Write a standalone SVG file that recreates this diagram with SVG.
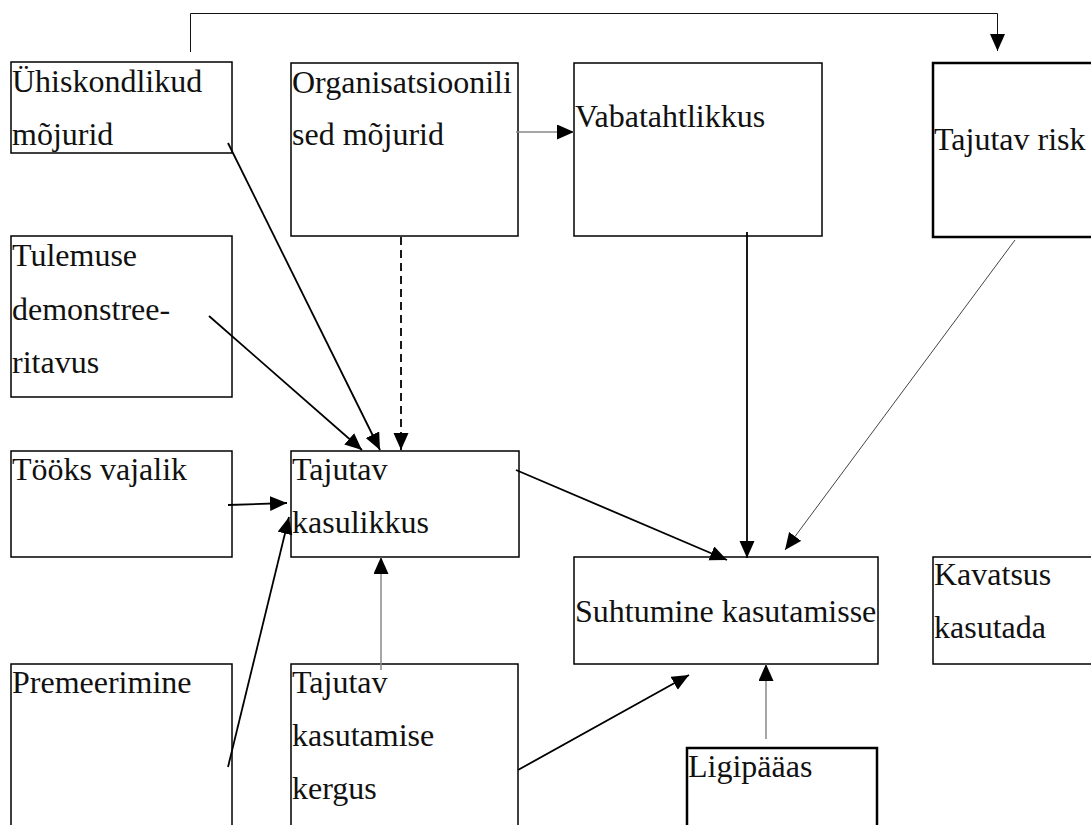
<svg xmlns="http://www.w3.org/2000/svg" width="1091" height="825" viewBox="0 0 1091 825">
<style>
.box{fill:#fff;stroke:#000;stroke-width:1.5}
.thick{stroke-width:2.5}
.t{font-family:"Liberation Serif","Times New Roman",serif;font-size:32px;fill:#111}
.c{fill:none;stroke:#000;stroke-width:1.8}
.g{stroke:#888;stroke-width:1.5}
.thin{stroke:#444;stroke-width:1}
.top{stroke:#111;stroke-width:1}
.d{stroke-dasharray:8,5}
</style>
<defs>
<marker id="ah" markerUnits="userSpaceOnUse" markerWidth="18" markerHeight="16" refX="17" refY="7.5" orient="auto">
<path d="M0,0 L17,7.5 L0,15 z" fill="#000"/>
</marker>
</defs>
<rect width="1091" height="825" fill="#fff"/>
<g id="n1"><rect class="box" x="11" y="62" width="221" height="91"/><text class="t" x="12" y="92">Ühiskondlikud</text><text class="t" x="12" y="145">mõjurid</text></g>
<g id="n2"><rect class="box" x="291" y="63" width="227" height="173"/><text class="t" x="292" y="93">Organisatsioonili</text><text class="t" x="292" y="145">sed mõjurid</text></g>
<g id="n3"><rect class="box" x="574" y="63" width="248" height="173"/><text class="t" x="575" y="127">Vabatahtlikkus</text></g>
<g id="n4"><rect class="box thick" x="933" y="63" width="170" height="174"/><text class="t" x="934" y="150">Tajutav risk</text></g>
<g id="n5"><rect class="box" x="11" y="236" width="221" height="161"/><text class="t" x="12" y="266">Tulemuse</text><text class="t" x="12" y="320">demonstree-</text><text class="t" x="12" y="373">ritavus</text></g>
<g id="n6"><rect class="box" x="11" y="451" width="221" height="106"/><text class="t" x="12" y="480">Tööks vajalik</text></g>
<g id="n7"><rect class="box" x="291" y="451" width="228" height="106"/><text class="t" x="292" y="480">Tajutav</text><text class="t" x="292" y="533">kasulikkus</text></g>
<g id="n8"><rect class="box" x="574" y="557" width="304" height="107"/><text class="t" x="575" y="622">Suhtumine kasutamisse</text></g>
<g id="n9"><rect class="box" x="933" y="557" width="170" height="107"/><text class="t" x="934" y="585">Kavatsus</text><text class="t" x="934" y="638">kasutada</text></g>
<g id="n10"><rect class="box" x="11" y="664" width="221" height="180"/><text class="t" x="12" y="693">Premeerimine</text></g>
<g id="n11"><rect class="box" x="291" y="664" width="227" height="180"/><text class="t" x="292" y="693">Tajutav</text><text class="t" x="292" y="746">kasutamise</text><text class="t" x="292" y="799">kergus</text></g>
<g id="n12"><rect class="box thick" x="687" y="748" width="190" height="100"/><text class="t" x="688" y="777">Ligipääas</text></g>
<g id="connectors">
<polyline class="c top" points="190.5,52 190.5,13.5 997.5,13.5 997.5,51" marker-end="url(#ah)"/>
<line class="c" x1="228" y1="143" x2="380" y2="450" marker-end="url(#ah)"/>
<line class="c" x1="209" y1="316" x2="362" y2="450" marker-end="url(#ah)"/>
<line class="c d" x1="401" y1="237" x2="401" y2="450" marker-end="url(#ah)"/>
<line class="c g" x1="516" y1="132" x2="574" y2="132" marker-end="url(#ah)"/>
<line class="c" x1="228" y1="505" x2="287" y2="503" marker-end="url(#ah)"/>
<line class="c" x1="228" y1="767" x2="289" y2="517" marker-end="url(#ah)"/>
<line class="c g" x1="381" y1="670" x2="381" y2="557" marker-end="url(#ah)"/>
<line class="c" x1="516" y1="470" x2="727" y2="560" marker-end="url(#ah)"/>
<line class="c" x1="747" y1="232" x2="747" y2="558" marker-end="url(#ah)"/>
<line class="c thin" x1="1015" y1="240" x2="785" y2="550" marker-end="url(#ah)"/>
<line class="c" x1="518" y1="770" x2="689" y2="675" marker-end="url(#ah)"/>
<line class="c g" x1="766" y1="739" x2="766" y2="664" marker-end="url(#ah)"/>
</g>
</svg>
